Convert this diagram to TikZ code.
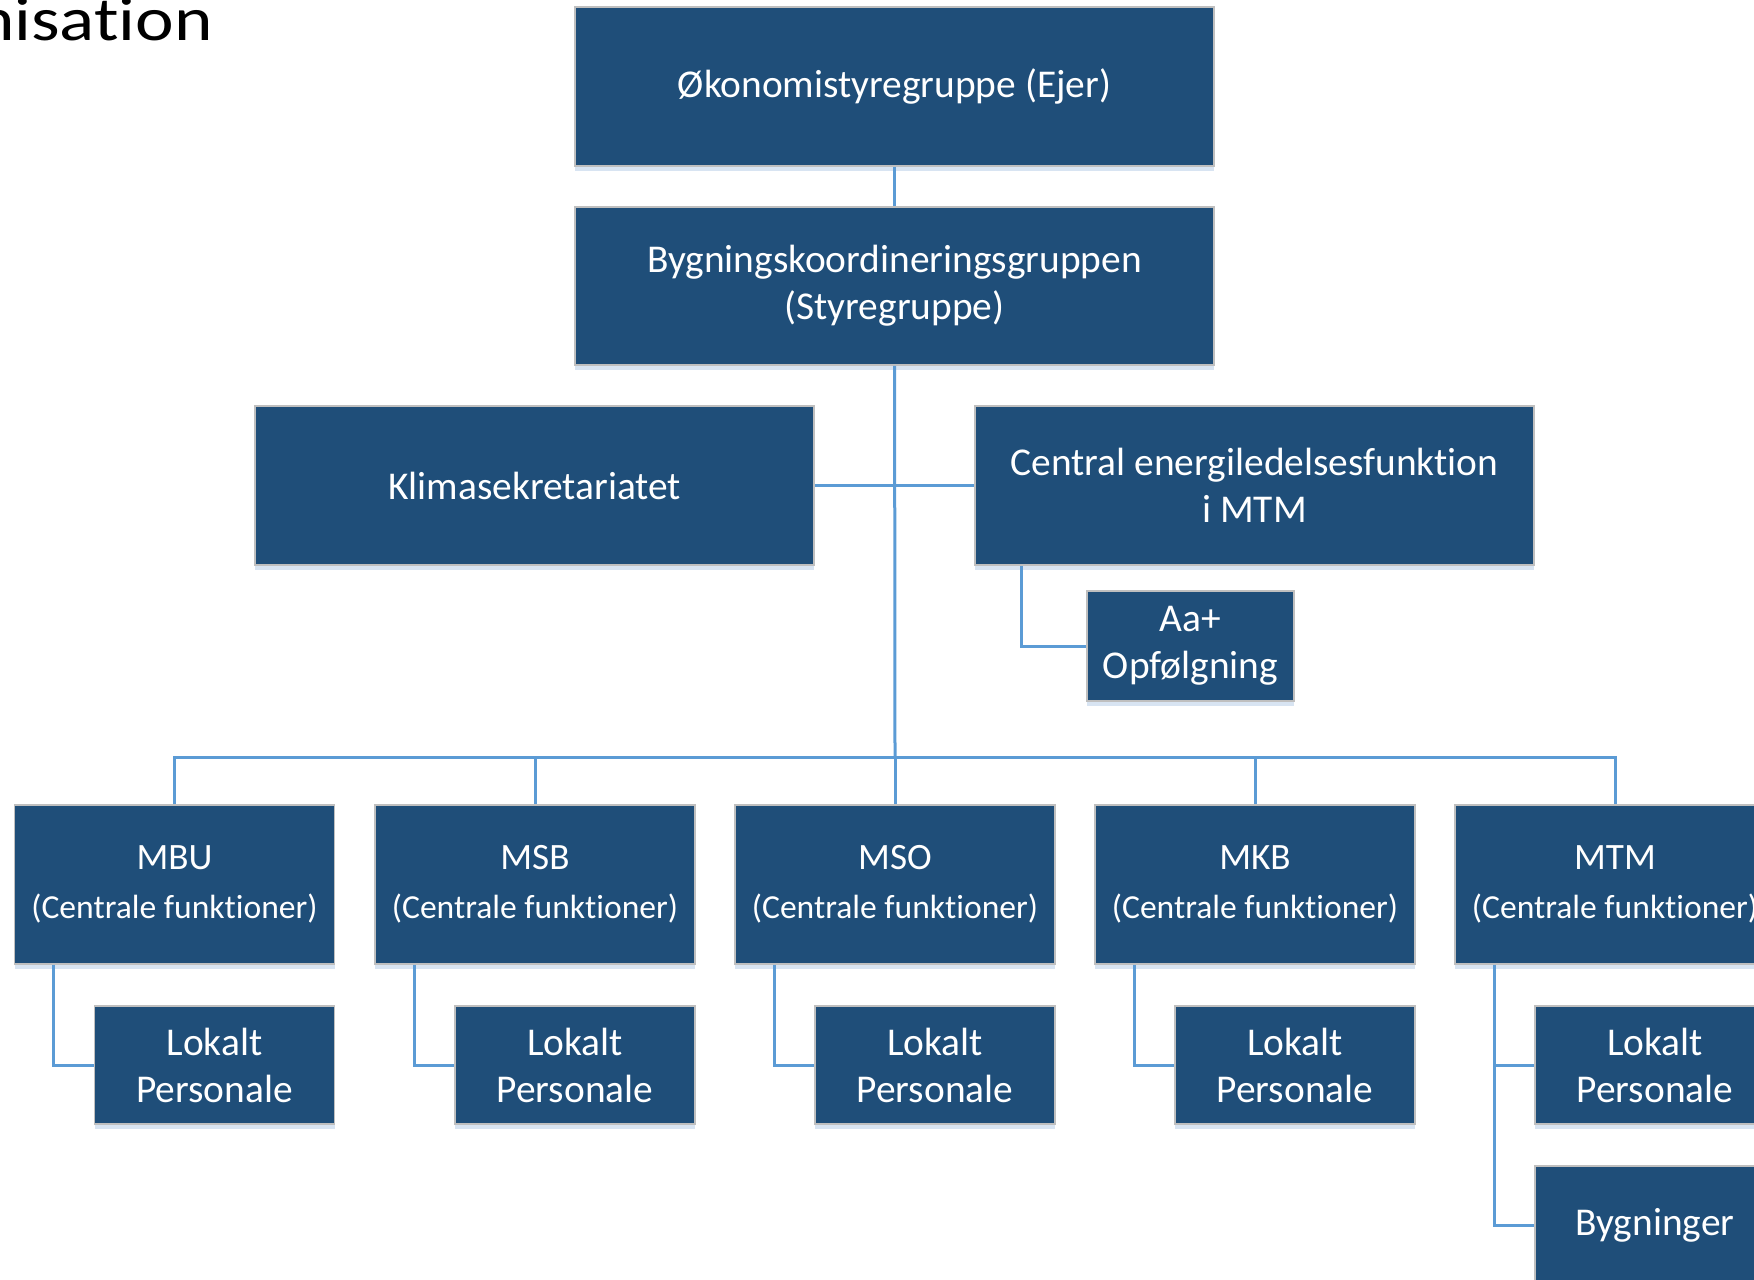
\documentclass[tikz,border=0pt]{standalone}
\usepackage{graphicx}
\usepackage{fontspec}
\setmainfont{Carlito}[Ligatures={NoCommon}]
\usetikzlibrary{shadows}

\definecolor{org-box}{RGB}{ 31, 78, 121}
\definecolor{org-line}{RGB}{ 91, 155, 213}
\definecolor{org-edge}{RGB}{ 191, 191, 191}
\definecolor{org-shadow}{RGB}{ 200, 216, 236}

\newcommand{\unitfont}{\fontsize{18.6}{24}\selectfont}

\begin{document}
\begin{tikzpicture}[x=0.5pt, y=-0.5pt,
    unit/.style={draw=org-edge, line width=0.8pt, fill=org-box, text=white,
      align=center, inner sep=0pt,
      drop shadow={shadow xshift=0pt, shadow yshift=-2.5pt, fill=org-shadow, opacity=0.7}},
    big/.style={unit, font=\fontsize{19.7}{23.5}\selectfont},
    small/.style={unit, font=\fontsize{16.8}{24.5}\selectfont},
    link/.style={draw=org-line, line width=1.5pt}]
    \useasboundingbox (0,0) rectangle (1754,1279);
    \clip (0,0) rectangle (1754,1279);

    \node[anchor=base east, inner sep=0pt, font=\fontsize{31}{37}\selectfont] (title) at (213,41) {\scalebox{1.18}[1]{Organisation}};

    \node[big, minimum width=319.5pt, minimum height=79.5pt] (oekonomi) at (894.5,86.5) {Økonomistyregruppe (Ejer)};
    \node[big, minimum width=319.5pt, minimum height=79pt] (bygkoord) at (894.5,286) {Bygningskoordineringsgruppen\\(Styregruppe)};

    \node[big, minimum width=279.5pt, minimum height=79.5pt] (klima) at (534.5,485.5) {Klimasekretariatet};
    \node[big, minimum width=279.5pt, minimum height=79.5pt] (central) at (1254.5,485.5) {Central energiledelsesfunktion\\i MTM};
    \node[big, minimum width=103.5pt, minimum height=55pt] (aaplus) at (1190.5,646) {Aa+\\Opfølgning};

    \node[small, minimum width=160pt, minimum height=79.5pt] (mbu) at (174.5,884.5) {{\unitfont MBU}\\(Centrale funktioner)};
    \node[small, minimum width=160pt, minimum height=79.5pt] (msb) at (535,884.5) {{\unitfont MSB}\\(Centrale funktioner)};
    \node[small, minimum width=160pt, minimum height=79.5pt] (mso) at (895,884.5) {{\unitfont MSO}\\(Centrale funktioner)};
    \node[small, minimum width=160pt, minimum height=79.5pt] (mkb) at (1255,884.5) {{\unitfont MKB}\\(Centrale funktioner)};
    \node[small, minimum width=160pt, minimum height=79.5pt] (mtm) at (1615,884.5) {{\unitfont MTM}\\(Centrale funktioner)};

    \node[big, minimum width=120pt, minimum height=59pt] (mbulok) at (214.5,1065) {Lokalt\\Personale};
    \node[big, minimum width=120pt, minimum height=59pt] (msblok) at (575,1065) {Lokalt\\Personale};
    \node[big, minimum width=120pt, minimum height=59pt] (msolok) at (935,1065) {Lokalt\\Personale};
    \node[big, minimum width=120pt, minimum height=59pt] (mkblok) at (1295,1065) {Lokalt\\Personale};
    \node[big, minimum width=120pt, minimum height=59pt] (mtmlok) at (1655,1065) {Lokalt\\Personale};
    \node[big, minimum width=120pt, minimum height=59pt] (bygninger) at (1655,1225) {Bygninger};

    \coordinate (bus) at (895,757);

    \draw[link] (oekonomi) -- (bygkoord);
    \draw[link] (bygkoord) -- (bus);
    \draw[link] (klima) -- (central);
    \draw[link] ([xshift=23.5pt]central.south west) |- (aaplus.west);

    \draw[link] (mbu) |- (bus) -| (mtm);
    \draw[link] (msb.north |- bus) -- (msb);
    \draw[link] (bus) -- (mso);
    \draw[link] (mkb.north |- bus) -- (mkb);

    \draw[link] ([xshift=20pt]mbu.south west) |- (mbulok.west);
    \draw[link] ([xshift=20pt]msb.south west) |- (msblok.west);
    \draw[link] ([xshift=20pt]mso.south west) |- (msolok.west);
    \draw[link] ([xshift=20pt]mkb.south west) |- (mkblok.west);
    \draw[link] ([xshift=20pt]mtm.south west) |- (mtmlok.west);
    \draw[link] ([xshift=20pt]mtm.south west) |- (bygninger.west);
\end{tikzpicture}
\end{document}
